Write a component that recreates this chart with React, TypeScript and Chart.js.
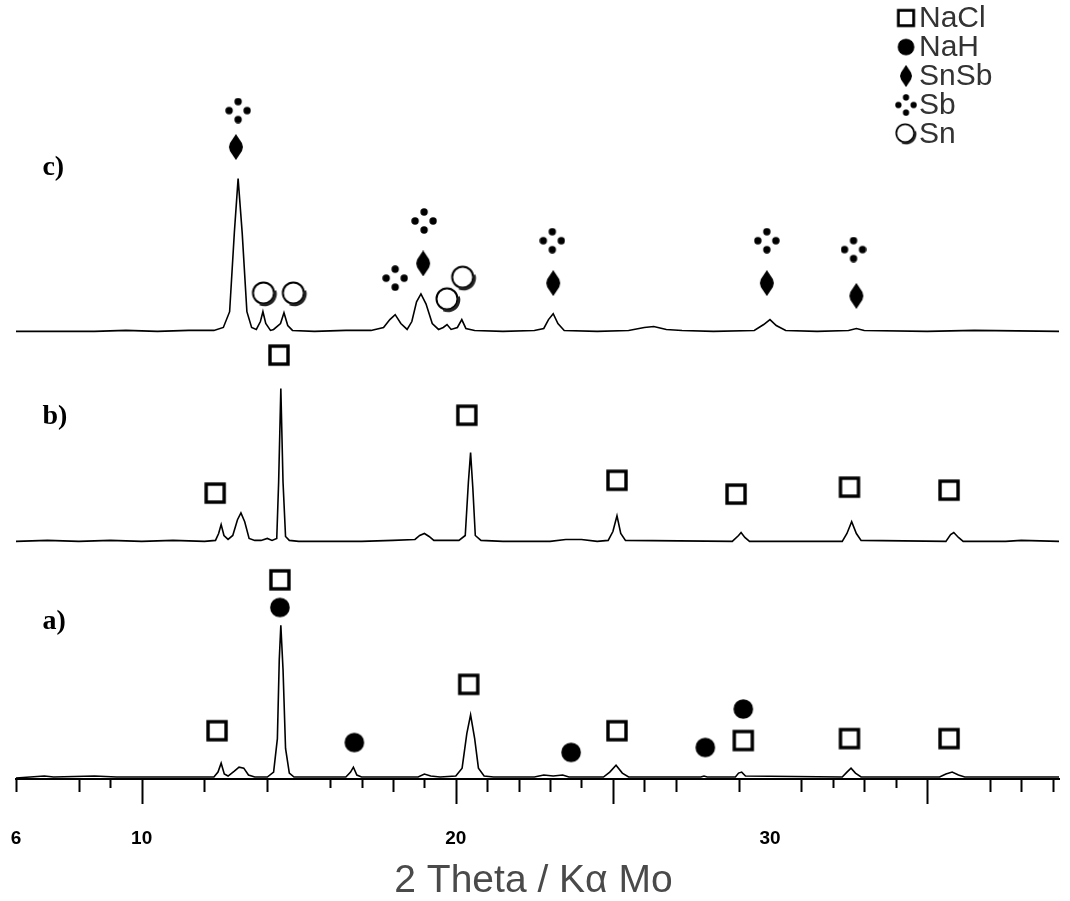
import React, { useEffect, useRef } from 'react';
import { Chart, registerables } from 'chart.js';

Chart.register(...registerables);

// ---- axis ----
const X_MIN = 6;
const X_MAX = 39.2;
const Y_MAX = 779;
const TICK_LABELS = [6, 10, 20, 30];
const LONG_TICKS = [10, 20, 25, 35];
const MEDIUM_TICKS = [6, 8, 12, 14, 18, 21, 22, 23, 26, 27, 29, 31, 33, 37, 38, 39];
const SHORT_TICKS = [9, 16, 17, 19, 24, 32, 34];
const AXIS_TITLE = '2 Theta / K\u03b1 Mo';

// ---- stacking offsets of the three patterns ----
const OFFSET_A = 1;
const OFFSET_B = 241;
const OFFSET_C = 454;

// ---- pattern c) ----
const TRACE_C_X = [6.0, 8.5, 9.5, 10.5, 11.5, 12.3, 12.6, 12.8, 12.95, 13.07, 13.2, 13.35, 13.5, 13.65, 13.78, 13.86, 13.95, 14.1, 14.2, 14.42, 14.53, 14.65, 14.8, 15.5, 16.5, 17.3, 17.7, 17.9, 18.07, 18.25, 18.45, 18.6, 18.75, 18.89, 19.05, 19.25, 19.45, 19.6, 19.72, 19.85, 20.05, 20.19, 20.32, 20.6, 21.5, 22.5, 22.8, 22.95, 23.1, 23.25, 23.45, 24.5, 25.5, 26.0, 26.3, 26.7, 27.2, 28.2, 29.5, 29.8, 30.0, 30.2, 30.5, 31.5, 32.5, 32.75, 33.0, 35.0, 36.5, 39.2];
const TRACE_C_Y = [0, 0, 1, 0, 1, 1, 4, 20, 100, 155, 100, 20, 4, 2, 10, 20, 8, 1, 2, 8, 19, 6, 1, 0, 1, 1, 4, 12, 17, 8, 2, 10, 30, 38, 28, 8, 2, 4, 7, 2, 4, 12, 3, 1, 0, 1, 3, 12, 18, 8, 1, 0, 1, 4, 5, 2, 1, 0, 1, 7, 12, 6, 1, 0, 1, 3, 1, 0, 1, 0];

// ---- pattern b) ----
const TRACE_B_X = [6.0, 7.0, 8.0, 9.0, 10.0, 11.0, 12.0, 12.35, 12.45, 12.53, 12.62, 12.75, 12.9, 13.05, 13.16, 13.28, 13.42, 13.6, 13.8, 14.0, 14.15, 14.3, 14.36, 14.43, 14.5, 14.58, 14.7, 15.0, 17.0, 18.0, 18.7, 18.85, 19.0, 19.15, 19.3, 20.1, 20.3, 20.4, 20.47, 20.54, 20.62, 20.8, 21.5, 23.0, 23.5, 24.0, 24.5, 24.85, 25.0, 25.13, 25.25, 25.4, 28.8, 29.0, 29.08, 29.2, 29.35, 32.3, 32.45, 32.6, 32.75, 32.9, 35.6, 35.75, 35.85, 36.0, 36.15, 37.5, 38.0, 39.2];
const TRACE_B_Y = [0, 1, 0, 1, 0, 1, 0, 1, 8, 17, 6, 2, 6, 22, 29, 20, 3, 1, 1, 3, 1, 3, 60, 155, 60, 5, 1, 0, 0, 1, 2, 6, 8, 5, 1, 1, 6, 60, 90, 55, 6, 1, 0, 0, 2, 2, 0, 1, 10, 26, 8, 1, 0, 6, 9, 4, 0, 0, 8, 20, 8, 1, 0, 7, 9, 4, 0, 0, 1, 0];

// ---- pattern a) ----
const TRACE_A_X = [6.0, 6.9, 7.2, 8.5, 9.2, 10.5, 11.5, 12.3, 12.43, 12.53, 12.63, 12.75, 12.95, 13.1, 13.25, 13.4, 13.6, 14.0, 14.2, 14.32, 14.38, 14.43, 14.5, 14.58, 14.7, 14.85, 16.5, 16.65, 16.74, 16.85, 17.0, 18.8, 19.0, 19.2, 19.5, 20.0, 20.2, 20.35, 20.47, 20.6, 20.72, 20.9, 21.2, 22.5, 22.8, 23.1, 23.4, 23.6, 24.7, 24.9, 25.1, 25.3, 25.5, 27.8, 27.9, 28.0, 28.9, 29.0, 29.1, 29.22, 32.3, 32.45, 32.58, 32.72, 32.9, 35.4, 35.6, 35.8, 36.0, 36.2, 39.2];
const TRACE_A_Y = [0, 2, 1, 2, 1, 1, 1, 1, 6, 15, 4, 2, 7, 11, 10, 3, 1, 1, 6, 40, 120, 155, 110, 30, 5, 1, 1, 6, 11, 3, 1, 1, 4, 2, 1, 2, 10, 45, 64, 40, 10, 2, 1, 1, 3, 2, 3, 1, 1, 6, 13, 5, 1, 1, 2, 1, 1, 5, 6, 2, 1, 6, 10, 5, 1, 1, 4, 6, 3, 1, 1];

// ---- phase markers (x = 2 theta, y = height in plot units) ----
const NACL_X = [12.34, 14.37, 20.35, 25.13, 28.92, 32.53, 35.7, 14.4, 12.4, 20.41, 25.13, 29.15, 32.53, 35.7];
const NACL_Y = [290, 430, 369, 303, 289, 296, 293, 202, 49, 96, 49, 39, 41, 41];
const NAH_X = [14.4, 16.77, 23.67, 27.94, 29.15];
const NAH_Y = [174, 37, 27, 32, 71];
const SNSB_X = [13.0, 18.96, 23.1, 29.9, 32.75];
const SNSB_Y = [641, 523, 503, 503, 490];
const SB_X = [13.07, 18.07, 18.99, 23.07, 29.9, 32.66];
const SB_Y = [678, 508, 566, 546, 546, 537];
const SN_X = [13.91, 14.86, 19.75, 20.25];
const SN_Y = [492, 492, 486, 508];

const LEGEND_LABELS = ['NaCl', 'NaH', 'SnSb', 'Sb', 'Sn'];
const TRACE_LABELS = ['a)', 'b)', 'c)'];
const TRACE_LABEL_Y = [159, 367, 620];
const TRACE_LABEL_X = 6.84;

function makeCanvas(w: number, h: number, draw: (ctx: CanvasRenderingContext2D) => void) {
  const c = document.createElement('canvas');
  c.width = w;
  c.height = h;
  const ctx = c.getContext('2d')!;
  draw(ctx);
  return c;
}

function makeMarkers() {
  const square = makeCanvas(24, 24, (ctx) => {
    ctx.fillStyle = '#fff';
    ctx.fillRect(3, 3, 18, 18);
    ctx.lineWidth = 3.4;
    ctx.strokeStyle = '#000';
    ctx.strokeRect(3, 3, 18, 18);
  });
  const dot = makeCanvas(22, 22, (ctx) => {
    ctx.fillStyle = '#000';
    ctx.beginPath();
    ctx.arc(11, 11, 9.8, 0, Math.PI * 2);
    ctx.fill();
  });
  const diamond = makeCanvas(16, 26, (ctx) => {
    ctx.fillStyle = '#000';
    ctx.beginPath();
    ctx.moveTo(8, 0);
    ctx.lineTo(14, 9);
    ctx.lineTo(15, 13);
    ctx.lineTo(14, 17);
    ctx.lineTo(8, 26);
    ctx.lineTo(2, 17);
    ctx.lineTo(1, 13);
    ctx.lineTo(2, 9);
    ctx.closePath();
    ctx.fill();
  });
  const sb = makeCanvas(26, 26, (ctx) => {
    ctx.fillStyle = '#000';
    [[13, 4], [4, 13], [22, 13], [13, 22]].forEach(([x, y]) => {
      ctx.beginPath();
      ctx.arc(x, y, 3.7, 0, Math.PI * 2);
      ctx.fill();
    });
  });
  const sn = makeCanvas(28, 28, (ctx) => {
    ctx.fillStyle = '#fff';
    ctx.beginPath();
    ctx.arc(13, 13, 10.5, 0, Math.PI * 2);
    ctx.fill();
    ctx.strokeStyle = '#000';
    ctx.lineWidth = 2;
    ctx.stroke();
    ctx.lineWidth = 2.6;
    ctx.strokeStyle = '#222';
    ctx.beginPath();
    ctx.arc(14, 14, 11, -0.3, 2.0);
    ctx.stroke();
  });
  return { square, dot, diamond, sb, sn };
}

function pts(xs: number[], ys: number[], off: number) {
  return xs.map((x, i) => ({ x, y: ys[i] + off }));
}

export default function App() {
  const ref = useRef<HTMLCanvasElement | null>(null);

  useEffect(() => {
    if (!ref.current) return;
    const m = makeMarkers();
    const legendImgs = [m.square, m.dot, m.diamond, m.sb, m.sn];

    const lineStyle = {
      borderColor: '#000',
      borderWidth: 1.6,
      pointRadius: 0,
      tension: 0,
      fill: false,
    };
    const markerStyle = (img: HTMLCanvasElement) => ({
      showLine: false,
      pointStyle: img,
      pointRadius: 10,
      borderColor: '#000',
      backgroundColor: '#000',
    });

    const tickPlugin = {
      id: 'xrdTicks',
      afterDraw(chart: any) {
        const sx = chart.scales.x;
        const sy = chart.scales.y;
        const ctx = chart.ctx;
        const y0 = sx.top;
        ctx.save();
        ctx.strokeStyle = '#000';
        ctx.lineWidth = 2;
        const drawSet = (vals: number[], len: number) => {
          vals.forEach((v) => {
            const px = Math.round(sx.getPixelForValue(v)) + 0.5;
            ctx.beginPath();
            ctx.moveTo(px, y0);
            ctx.lineTo(px, y0 + len);
            ctx.stroke();
          });
        };
        drawSet(LONG_TICKS, 25);
        drawSet(MEDIUM_TICKS, 13);
        drawSet(SHORT_TICKS, 9);

        // axis title
        ctx.fillStyle = '#4a4a4a';
        ctx.font = '39px "Liberation Sans", Arial, sans-serif';
        ctx.textAlign = 'center';
        ctx.textBaseline = 'middle';
        ctx.fillText(AXIS_TITLE, (chart.chartArea.left + chart.chartArea.right) / 2 - 4, 881);

        // pattern labels
        ctx.fillStyle = '#000';
        ctx.font = 'bold 28px "Liberation Serif", "Times New Roman", serif';
        ctx.textAlign = 'left';
        ctx.textBaseline = 'middle';
        TRACE_LABELS.forEach((t, i) => {
          ctx.fillText(t, sx.getPixelForValue(TRACE_LABEL_X), sy.getPixelForValue(TRACE_LABEL_Y[i]));
        });

        // legend
        ctx.font = '30px "Liberation Sans", Arial, sans-serif';
        ctx.fillStyle = '#333';
        const lx = 906;
        const tx = 919;
        LEGEND_LABELS.forEach((label, i) => {
          const ly = 18 + i * 29;
          const img = legendImgs[i];
          const s = 0.85;
          ctx.drawImage(img, lx - (img.width * s) / 2, ly - (img.height * s) / 2, img.width * s, img.height * s);
          ctx.fillText(label, tx, ly + 1);
        });
        ctx.restore();
      },
    };

    const chart = new Chart(ref.current, {
      type: 'line',
      data: {
        datasets: [
          { label: 'NaCl', data: pts(NACL_X, NACL_Y, 0), ...markerStyle(m.square) },
          { label: 'NaH', data: pts(NAH_X, NAH_Y, 0), ...markerStyle(m.dot) },
          { label: 'SnSb', data: pts(SNSB_X, SNSB_Y, 0), ...markerStyle(m.diamond) },
          { label: 'Sb', data: pts(SB_X, SB_Y, 0), ...markerStyle(m.sb) },
          { label: 'Sn', data: pts(SN_X, SN_Y, 0), ...markerStyle(m.sn) },
          { label: 'c', data: pts(TRACE_C_X, TRACE_C_Y, OFFSET_C), ...lineStyle },
          { label: 'b', data: pts(TRACE_B_X, TRACE_B_Y, OFFSET_B), ...lineStyle },
          { label: 'a', data: pts(TRACE_A_X, TRACE_A_Y, OFFSET_A), ...lineStyle },
        ] as any,
      },
      options: {
        animation: false,
        responsive: true,
        maintainAspectRatio: false,
        layout: { padding: { left: 16, right: 8, top: 0, bottom: 0 } },
        plugins: {
          legend: { display: false },
          tooltip: { enabled: false },
        },
        events: [],
        scales: {
          x: {
            type: 'linear',
            min: X_MIN,
            max: X_MAX,
            afterFit: (scale: any) => {
              scale.height = 122;
              scale.paddingLeft = 0;
              scale.paddingRight = 0;
            },
            grid: {
              display: true,
              drawOnChartArea: false,
              drawTicks: true,
              tickLength: 25,
              color: 'rgba(0,0,0,0)',
              tickColor: 'rgba(0,0,0,0)',
            },
            border: { display: true, color: '#000', width: 2 },
            ticks: {
              autoSkip: false,
              maxRotation: 0,
              stepSize: 1,
              padding: 23,
              color: '#000',
              font: { family: '"Liberation Sans", Arial, sans-serif', weight: 'bold', size: 19 },
              callback: (v: any) => (TICK_LABELS.includes(Number(v)) ? String(v) : ''),
            },
            title: { display: false },
          },
          y: {
            type: 'linear',
            display: false,
            min: 0,
            max: Y_MAX,
          },
        },
      },
      plugins: [tickPlugin],
    });
    return () => chart.destroy();
  }, []);

  return (
    <div style={{ position: 'fixed', left: 0, top: 0, width: 1070, height: 901, background: '#fff' }}>
      <canvas ref={ref} />
    </div>
  );
}
